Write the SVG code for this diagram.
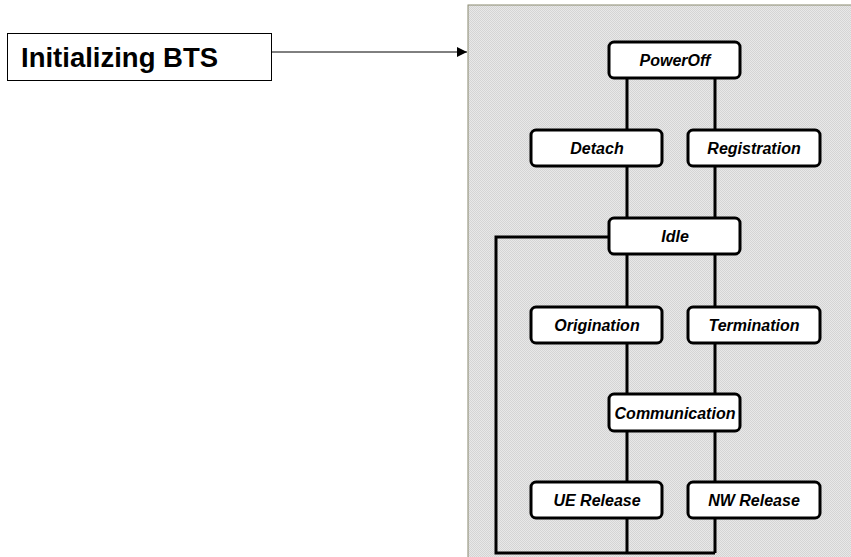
<svg xmlns="http://www.w3.org/2000/svg" width="851" height="557" viewBox="0 0 851 557">
<style>
.node rect{fill:#fff;stroke:#000;stroke-width:3}
.node text{font-family:"Liberation Sans",Arial,sans-serif;font-weight:bold;font-style:italic;font-size:16px;text-anchor:middle;fill:#000}
.conn{fill:none;stroke:#000;stroke-width:3}
</style>
<defs>
<pattern id="dots" width="2" height="2" patternUnits="userSpaceOnUse">
<rect width="2" height="2" fill="#e8e8e8"/>
<rect width="1" height="1" fill="#d4d4d4"/>
<rect x="1" y="1" width="1" height="1" fill="#d4d4d4"/>
</pattern>
<marker id="arr" viewBox="0 0 10 10" refX="10" refY="5" markerWidth="10" markerHeight="10" markerUnits="userSpaceOnUse" orient="auto">
<path d="M0,0 L10,5 L0,10 z" fill="#000"/>
</marker>
</defs>
<rect width="851" height="557" fill="#fff"/>
<rect id="panel" x="468" y="5" width="390" height="560" fill="url(#dots)" stroke="#8a8a70" stroke-width="1"/>
<g id="init">
<rect x="7.5" y="33.5" width="264" height="47" fill="#fff" stroke="#000" stroke-width="1"/>
<text x="21" y="67" font-family="Liberation Sans,Arial,sans-serif" font-weight="bold" font-size="27.5">Initializing BTS</text>
</g>
<g id="connectors">
<line x1="272" y1="52" x2="467" y2="52" stroke="#000" stroke-width="1" marker-end="url(#arr)"/>
<path class="conn" d="M627,78V130M715,78V130M627,166V218M715,166V218M627,254V307M715,254V307M627,343V394M715,343V394M627,431V482M715,431V482M627,518V553M715,518V553"/>
<path class="conn" d="M609,237H496V553H715"/>
</g>
<g id="poweroff" class="node"><rect x="609" y="42" width="131" height="36" rx="5"/><text x="675" y="66">PowerOff</text></g>
<g id="detach" class="node"><rect x="531" y="130" width="131" height="36" rx="5"/><text x="597" y="154">Detach</text></g>
<g id="registration" class="node"><rect x="688" y="130" width="132" height="36" rx="5"/><text x="754" y="154">Registration</text></g>
<g id="idle" class="node"><rect x="609" y="218" width="131" height="36" rx="5"/><text x="675" y="242">Idle</text></g>
<g id="origination" class="node"><rect x="531" y="307" width="131" height="36" rx="5"/><text x="597" y="331">Origination</text></g>
<g id="termination" class="node"><rect x="688" y="307" width="132" height="36" rx="5"/><text x="754" y="331">Termination</text></g>
<g id="communication" class="node"><rect x="609" y="394" width="131" height="37" rx="5"/><text x="675" y="419">Communication</text></g>
<g id="uerelease" class="node"><rect x="531" y="482" width="131" height="36" rx="5"/><text x="597" y="506">UE Release</text></g>
<g id="nwrelease" class="node"><rect x="688" y="482" width="132" height="36" rx="5"/><text x="754" y="506">NW Release</text></g>
</svg>
